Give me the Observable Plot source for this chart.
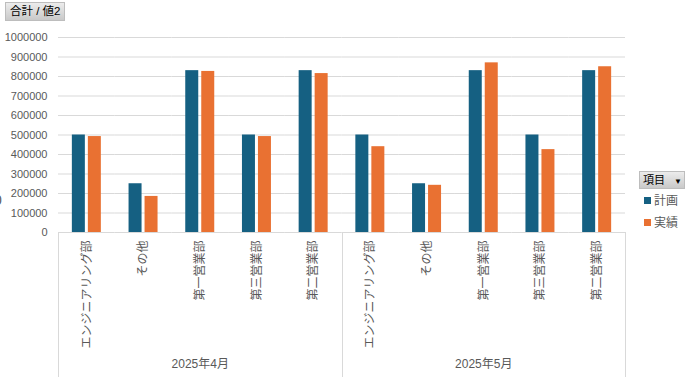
<!DOCTYPE html>
<html><head><meta charset="utf-8">
<script src="https://cdn.jsdelivr.net/npm/d3@7"></script>
<script src="https://cdn.jsdelivr.net/npm/@observablehq/plot@0.6"></script>
<style>
html,body{margin:0;padding:0;background:#fff;width:687px;height:377px;overflow:hidden;position:relative;font-family:"Liberation Sans","Noto Sans CJK JP",sans-serif;}
#chart{position:absolute;left:0;top:0;}
.btn{position:absolute;background:linear-gradient(#ececec,#c9c9c9);border:1px solid #bdbdbd;color:#000;font-size:11.5px;line-height:16px;box-sizing:border-box;white-space:nowrap;}
.leg{position:absolute;font-size:12px;color:#595959;line-height:14px;}
.sw{display:inline-block;width:7px;height:7px;margin-right:3px;vertical-align:1px;}
</style></head>
<body>
<div id="chart"></div>
<div class="btn" style="left:5px;top:2px;width:60px;height:19px;padding-left:4px;">合計 / 値2</div>
<div class="btn" style="left:639px;top:171px;width:46px;height:18px;padding-left:3px;font-size:11px;">項目 <span style="font-size:8px;margin-left:6px;">▼</span></div>
<div id="legend"></div>
<div style="position:absolute;left:-6px;top:192px;font-size:14px;color:#595959;">0</div>
<script>
const months = ["2025年4月", "2025年5月"];
const depts = ["エンジニアリング部", "その他", "第一営業部", "第三営業部", "第二営業部"];
const seriesNames = ["計画", "実績"];
const seriesColors = ["#156082", "#E97132"];
const planValues = [500000, 250000, 830000, 500000, 830000, 500000, 250000, 830000, 500000, 830000];
const actualValues = [492000, 185000, 826000, 492000, 815000, 440000, 242000, 870000, 425000, 850000];
const yTicks = [0, 100000, 200000, 300000, 400000, 500000, 600000, 700000, 800000, 900000, 1000000];

const keys = [];
months.forEach(m => depts.forEach(d => keys.push(m + "|" + d)));
const rows = [];
keys.forEach((k, i) => {
  rows.push({key: k, series: seriesNames[0], value: planValues[i]});
  rows.push({key: k, series: seriesNames[1], value: actualValues[i]});
});
const monthLabels = months.map(m => ({key: m + "|" + depts[2], label: m}));

const plot = Plot.plot({
  width: 687,
  height: 377,
  marginTop: 37,
  marginBottom: 145,
  marginLeft: 58,
  marginRight: 62,
  style: {fontFamily: '"Liberation Sans","Noto Sans CJK JP",sans-serif', background: "transparent"},
  fx: {domain: keys, padding: 0, round: false},
  x: {domain: seriesNames, paddingInner: 0.1875, paddingOuter: 0.866, round: false, axis: null},
  y: {domain: [0, 1000000], axis: null},
  color: {domain: seriesNames, range: seriesColors},
  marks: [
    Plot.gridY(yTicks, {stroke: "#D9D9D9", strokeOpacity: 1, strokeWidth: 1}),
    Plot.barY(rows, {fx: "key", x: "series", y: "value", fill: "series"}),
    Plot.axisY(yTicks, {tickSize: 0, tickPadding: 11, tickFormat: d => String(d), fontSize: 11, fill: "#595959", label: null}),
    Plot.axisFx({anchor: "bottom", tickRotate: -90, tickSize: 0, tickPadding: 8, tickFormat: k => k.split("|")[1], fontSize: 12, fill: "#595959", label: null}),
    Plot.text(monthLabels, {fx: "key", text: "label", frameAnchor: "bottom", dy: 135, fontSize: 12, fill: "#595959"})
  ]
});
document.getElementById("chart").appendChild(plot);

// group separator lines drawn from the fx scale
const fx = plot.scale("fx");
const yS = plot.scale("y");
const y0 = yS.apply(0);
const xs = [];
months.forEach((m, i) => {
  if (i === 0) xs.push(fx.apply(m + "|" + depts[0]));
  xs.push(fx.apply(m + "|" + depts[depts.length - 1]) + fx.bandwidth);
});
const svg = d3.select(plot);
xs.forEach(x => {
  svg.append("line").attr("x1", Math.round(x) + 0.5).attr("x2", Math.round(x) + 0.5)
    .attr("y1", y0).attr("y2", 377).attr("stroke", "#D9D9D9").attr("stroke-width", 1);
});

// legend
const leg = document.getElementById("legend");
seriesNames.forEach((s, i) => {
  const d = document.createElement("div");
  d.className = "leg";
  d.style.left = "644px";
  d.style.top = (194 + i * 22) + "px";
  d.innerHTML = `<span class="sw" style="background:${seriesColors[i]}"></span>${s}`;
  leg.appendChild(d);
});
</script>
</body></html>
